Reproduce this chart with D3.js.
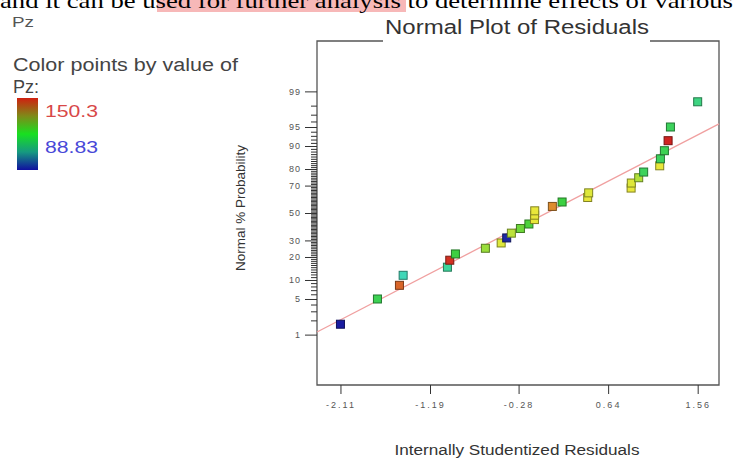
<!DOCTYPE html>
<html><head><meta charset="utf-8">
<script src="https://cdn.jsdelivr.net/npm/d3@7"></script>
<style>
html,body{margin:0;padding:0;background:#fff;}
svg{display:block;font-family:"Liberation Sans",Arial,sans-serif;}
</style></head>
<body><svg id="c" width="734" height="459"></svg>
<script>
// ---- data ----
const residuals = [-2.11,-1.73,-1.504,-1.466,-1.011,-0.987,-0.929,-0.621,-0.459,-0.402,-0.354,-0.261,-0.174,-0.117,-0.115,-0.114,0.067,0.167,0.43,0.44,0.876,0.878,0.954,1.005,1.17,1.177,1.218,1.256,1.28,1.56];
const normalPct = [1.67,5,8.33,11.67,15,18.33,21.67,25,28.33,31.67,35,38.33,41.67,45,48.33,51.67,55,58.33,61.67,65,68.33,71.67,75,78.33,81.67,85,88.33,91.67,95,98.33];
const pzValues = [89,117,145,106,109,149,119,128,134,90,131,124,121,135,135,135,142,119,135,134,135,134,130,116,135,116,117,150,116,112];
const xTicks = [-2.11,-1.19,-0.28,0.64,1.56];
const yMajor = [1,5,10,20,30,50,70,80,90,95,99];
const yMinor = d3.range(1,100);
const refLineResid = [-2.351,1.779];
const refLinePct = [1.14,95.6];
const pzRange = [88.83,150.3];

function qnorm(p){
 const a=[-3.969683028665376e+01,2.209460984245205e+02,-2.759285104469687e+02,1.383577518672690e+02,-3.066479806614716e+01,2.506628277459239e+00];
 const b=[-5.447609879822406e+01,1.615858368580409e+02,-1.556989798598866e+02,6.680131188771972e+01,-1.328068155288572e+01];
 const c=[-7.784894002430293e-03,-3.223964580411365e-01,-2.400758296887911e+00,-2.549732539343734e+00,4.374664141464968e+00,2.938163982698783e+00];
 const d=[7.784695709041462e-03,3.224671290700398e-01,2.445134137142996e+00,3.754408661907416e+00];
 const pl=0.02425, ph=1-pl;
 if(p<pl){const q=Math.sqrt(-2*Math.log(p));return (((((c[0]*q+c[1])*q+c[2])*q+c[3])*q+c[4])*q+c[5])/((((d[0]*q+d[1])*q+d[2])*q+d[3])*q+1);}
 if(p<=ph){const q=p-0.5,r=q*q;return (((((a[0]*r+a[1])*r+a[2])*r+a[3])*r+a[4])*r+a[5])*q/(((((b[0]*r+b[1])*r+b[2])*r+b[3])*r+b[4])*r+1);}
 const q=Math.sqrt(-2*Math.log(1-p));return -(((((c[0]*q+c[1])*q+c[2])*q+c[3])*q+c[4])*q+c[5])/((((d[0]*q+d[1])*q+d[2])*q+d[3])*q+1);
}

const svg = d3.select("#c");
const L=317,R=719,T=41,B=385;
const x = d3.scaleLinear().domain([-2.351,1.779]).range([L,R]);
const yz = d3.scaleLinear().domain([-3.29,3.29]).range([B,T]);
const y = p => yz(qnorm(p/100));

const pzMid=(pzRange[0]+pzRange[1])/2;
const color = d3.scaleLinear()
  .domain([pzRange[0],(pzRange[0]+pzMid)/2,pzMid,(pzMid+pzRange[1])/2,pzRange[1]])
  .range(["#1a1aa0","#40d8c8","#3cd03c","#e8e83a","#d02020"]);

// top serif text with highlight (cropped)
svg.append("rect").attr("x",157).attr("y",0).attr("width",249).attr("height",12).attr("fill","#f7b8b8");
svg.append("text").attr("x",0).attr("y",8).attr("font-family","'Liberation Serif','Times New Roman',serif")
  .attr("font-size",22).attr("fill","#000").attr("textLength",733).attr("lengthAdjust","spacingAndGlyphs")
  .text("and it can be used for further analysis to determine effects of various");

// left legend
svg.append("text").attr("x",12).attr("y",27).attr("font-size",15).attr("fill","#555")
  .attr("textLength",22).attr("lengthAdjust","spacingAndGlyphs").text("Pz");
svg.append("text").attr("x",13).attr("y",71).attr("font-size",18).attr("fill","#444")
  .attr("textLength",225).attr("lengthAdjust","spacingAndGlyphs").text("Color points by value of");
svg.append("text").attr("x",13).attr("y",93).attr("font-size",18).attr("fill","#444").text("Pz:");
const defs=svg.append("defs");
const g=defs.append("linearGradient").attr("id","grad").attr("x1",0).attr("y1",0).attr("x2",0).attr("y2",1);
[["0%","#d02010"],["25%","#7f8a18"],["50%","#18e020"],["75%","#169a80"],["100%","#1010a0"]]
  .forEach(s=>g.append("stop").attr("offset",s[0]).attr("stop-color",s[1]));
svg.append("rect").attr("x",17).attr("y",98).attr("width",21).attr("height",72).attr("fill","url(#grad)");
svg.append("text").attr("x",45).attr("y",117).attr("font-size",16).attr("fill","#d84848")
  .attr("textLength",53).attr("lengthAdjust","spacingAndGlyphs").text(String(pzRange[1]));
svg.append("text").attr("x",45).attr("y",153).attr("font-size",16).attr("fill","#4848d8")
  .attr("textLength",53).attr("lengthAdjust","spacingAndGlyphs").text(String(pzRange[0]));

// frame with title gap
const fr = svg.append("g").attr("stroke","#555").attr("stroke-width",1.3).attr("fill","none");
fr.append("path").attr("d",`M383,${T}H${L}V${B}H${R}V${T}H650`);
svg.append("text").attr("x",517).attr("y",34).attr("text-anchor","middle").attr("font-size",20).attr("fill","#333")
  .attr("textLength",264).attr("lengthAdjust","spacingAndGlyphs").text("Normal Plot of Residuals");

// y axis
const yMinorAxis = d3.axisLeft(yz).tickValues(yMinor.filter(p=>!yMajor.includes(p)).map(p=>qnorm(p/100))).tickSize(6).tickFormat("");
const ga = svg.append("g").attr("transform",`translate(${L},0)`).call(yMinorAxis);
const yMajAxis = d3.axisLeft(yz).tickValues(yMajor.map(p=>qnorm(p/100))).tickSize(12).tickPadding(4)
  .tickFormat((d,i)=>yMajor[i]);
const gm = svg.append("g").attr("transform",`translate(${L},0)`).call(yMajAxis);
[ga,gm].forEach(s=>{s.select(".domain").remove(); s.selectAll("line").attr("stroke","#333");});
gm.selectAll("text").attr("font-size",9).attr("fill","#555").attr("letter-spacing",1).attr("font-family","'Liberation Sans',Arial,sans-serif");

// x axis
const xAxis = d3.axisBottom(x).tickValues(xTicks).tickSize(9).tickPadding(8).tickFormat(d=>d.toFixed(2));
const gx = svg.append("g").attr("transform",`translate(0,${B})`).call(xAxis);
gx.select(".domain").remove();
gx.selectAll("line").attr("stroke","#333");
gx.selectAll("text").attr("font-size",9).attr("fill","#555").attr("letter-spacing",2).attr("font-family","'Liberation Sans',Arial,sans-serif");

// axis titles
svg.append("text").attr("transform",`translate(245,208) rotate(-90)`).attr("text-anchor","middle")
  .attr("font-size",13.5).attr("fill","#333").text("Normal % Probability");
svg.append("text").attr("x",517).attr("y",455).attr("text-anchor","middle").attr("font-size",14).attr("fill","#333")
  .attr("textLength",245).attr("lengthAdjust","spacingAndGlyphs").text("Internally Studentized Residuals");

// reference line
svg.append("line").attr("x1",x(refLineResid[0])).attr("y1",y(refLinePct[0]))
  .attr("x2",x(refLineResid[1])).attr("y2",y(refLinePct[1]))
  .attr("stroke","#f0a0a0").attr("stroke-width",1.3);

// points
const pts = residuals.map((r,i)=>({r,p:normalPct[i],pz:pzValues[i]}));
const sz=8;
svg.append("g").selectAll("rect").data(pts).join("rect")
  .attr("x",d=>x(d.r)-sz/2).attr("y",d=>y(d.p)-sz/2).attr("width",sz).attr("height",sz)
  .attr("fill",d=>color(d.pz)).attr("stroke",d=>d3.color(color(d.pz)).darker(1.6)).attr("stroke-width",1);
</script></body></html>
